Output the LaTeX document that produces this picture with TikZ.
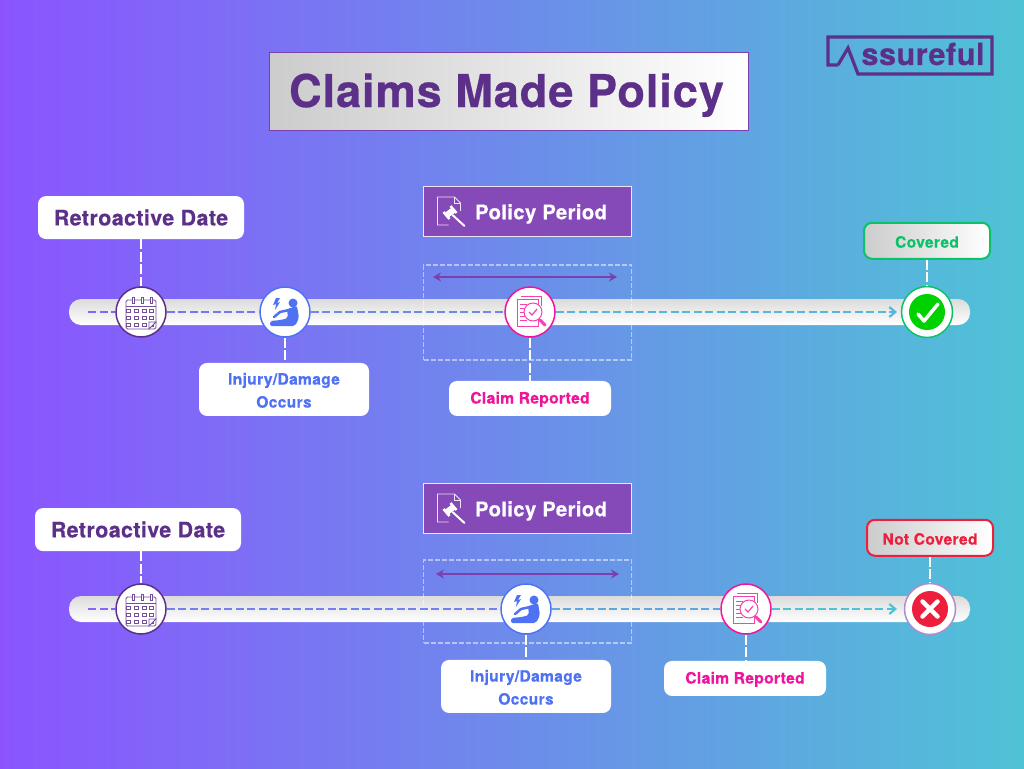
\documentclass[tikz,border=0pt]{standalone}
\usepackage{fontspec}
\setmainfont[LetterSpace=2.0,BoldFeatures={FakeBold=0.5}]{TeX Gyre Heros}
\usetikzlibrary{arrows.meta,positioning}
\definecolor{bgLeft}{HTML}{8B54FF}
\definecolor{bgRight}{HTML}{4FC3D6}
\definecolor{brandPurple}{HTML}{5C2F88}
\definecolor{periodPurple}{HTML}{8549B8}
\definecolor{spanPurple}{HTML}{7C3FAE}
\definecolor{injuryBlue}{HTML}{4F72F5}
\definecolor{claimPink}{HTML}{F0149C}
\definecolor{okGreen}{HTML}{0CC268}
\definecolor{discGreen}{HTML}{00D200}
\definecolor{badRed}{HTML}{EE1F3C}
\newcommand{\textdrop}[1]{\rule{0pt}{#1}}
\tikzset{
    x=1pt,
    y=-1pt,
    bar/.style={
        rectangle,
        rounded corners=12pt,
        top color=black!14,
        bottom color=white,
        minimum width=901pt,
        minimum height=26pt,
        inner sep=0pt
    },
    whitebox/.style={
        rectangle,
        rounded corners=8pt,
        fill=white,
        align=center,
        inner sep=0pt,
        font=\bfseries\fontsize{15.6}{23}\selectfont
    },
    retrobox/.style={
        whitebox,
        minimum width=206pt,
        minimum height=43pt,
        text=brandPurple,
        font=\bfseries\fontsize{21.4}{24}\selectfont
    },
    injurybox/.style={whitebox, minimum width=170pt, minimum height=53pt, text=injuryBlue},
    claimbox/.style={whitebox, minimum width=162pt, minimum height=35pt, text=claimPink},
    resultbox/.style={
        rectangle,
        rounded corners=8pt,
        left color=black!20,
        right color=white,
        line width=2pt,
        minimum width=126pt,
        minimum height=36pt,
        inner sep=0pt,
        font=\bfseries\fontsize{15.6}{18}\selectfont
    },
    periodbox/.style={
        rectangle,
        fill=periodPurple,
        draw=white!85!periodPurple,
        line width=1pt,
        minimum width=208pt,
        minimum height=50pt,
        inner sep=0pt,
        text=white,
        font=\bfseries\fontsize{20.2}{24}\selectfont
    },
    periodframe/.style={
        rectangle,
        draw=white,
        draw opacity=0.5,
        line width=1.3pt,
        dash pattern=on 5pt off 2pt,
        minimum width=208pt,
        inner sep=0pt
    },
    stop/.style={circle, fill=white, line width=1.5pt, minimum size=50pt, inner sep=0pt},
    span/.style={{Stealth[length=8pt,width=9pt]}-{Stealth[length=8pt,width=9pt]}, line width=2.2pt, draw=spanPurple},
    track/.style={line width=2.2pt, dash pattern=on 8pt off 3.5pt},
    link/.style={draw=white, line width=1.5pt, dash pattern=on 10pt off 2.5pt},
    pics/calendaricon/.style={code={
        \draw[brandPurple!85!white, line width=0.9pt, rounded corners=1.5pt] (-15,-12) rectangle (15,17);
        \draw[brandPurple!85!white, line width=0.9pt] (-15,-6) -- (15,-6);
        \foreach \ringx in {-9,0,9} {
            \draw[brandPurple!85!white, line width=0.9pt, fill=white] (\ringx,-15) rectangle ++(2.5,6);
        }
        \foreach \cellx in {-11,-3,5,12} {
            \foreach \celly in {-3,4,11} {
                \draw[brandPurple!85!white, line width=0.9pt] (\cellx,\celly) rectangle ++(-3.6,3.6);
            }
        }
        \draw[brandPurple!85!white, line width=0.9pt, fill=white] (15,10) -- (8,17) -- (8,10) -- cycle;
    }},
    pics/seaticon/.style={code={
        \fill[injuryBlue] (8,-9) circle (4.5);
        \fill[injuryBlue, rounded corners=2pt] (2,-3) -- (12,-6) -- (14,6) -- (10,14) -- (-15,14) -- (-15,9) -- (-4,8) -- (3,6) -- cycle;
        \draw[injuryBlue, line width=2.5pt, line cap=round] (-11,5) -- (-5,0) -- (4,-2);
        \fill[injuryBlue] (-9,-14) -- (-12,-7) -- (-9,-8) -- (-10,-2) -- (-5,-10) -- (-8,-9) -- (-5,-14) -- cycle;
    }},
    pics/claimicon/.style={code={
        \draw[claimPink!80!white, line width=1pt] (-9,-16) -- (11,-16) -- (11,-6);
        \draw[claimPink!80!white, line width=1pt, fill=white] (-13,-13) -- (8,-13) -- (8,14) -- (-13,14) -- cycle;
        \foreach \liney in {-8,-4,0,4,8} {
            \draw[claimPink!80!white, line width=1pt] (-10,\liney) -- (-3,\liney);
        }
        \draw[claimPink!80!white, line width=1pt, fill=white] (3,0) circle (9);
        \draw[claimPink!80!white, line width=1.2pt] (-1,0) -- (2,3) -- (7,-3);
        \draw[claimPink!80!white, line width=3pt, line cap=round] (10,8) -- (15,13);
    }},
    pics/gavelicon/.style={code={
        \draw[white!85!periodPurple, line width=0.9pt] (-3,14) -- (-14,14) -- (-14,-14) -- (3,-14) -- (9,-8) -- (9,0);
        \draw[white!85!periodPurple, line width=0.9pt] (3,-14) -- (3,-8) -- (9,-8);
        \draw[white, line width=6pt] (-6,5) -- (2,-1);
        \draw[white, line width=2pt, line cap=round] (1,4) -- (13,15);
        \draw[white, line width=2.5pt] (-8,1) -- (-2,8);
        \draw[white, line width=2.5pt] (-1,-5) -- (5,2);
    }},
    pics/tickicon/.style={code={
        \draw[white, line width=3.5pt, line cap=round, line join=round] (-9,2) -- (-3,9) -- (11,-8);
    }},
    pics/crossicon/.style={code={
        \draw[white, line width=4.5pt, line cap=round] (-7.5,-7.5) -- (7.5,7.5);
        \draw[white, line width=4.5pt, line cap=round] (-7.5,7.5) -- (7.5,-7.5);
    }}
}
\begin{document}
\begin{tikzpicture}
    \useasboundingbox (0,0) rectangle (1024,768);
    \shade[left color=bgLeft, right color=bgRight] (0,0) rectangle (1024,768);

    % heading
    \node[rectangle, left color=black!20, right color=white, draw=spanPurple, line width=1pt,
        minimum width=479pt, minimum height=77pt, inner sep=0pt, text=brandPurple,
        font=\bfseries\fontsize{45.2}{50}\selectfont] (title) at (508.5,91.5) {\hspace*{-4pt}\textdrop{41pt}Claims Made Policy};

    \draw[brandPurple, line width=3.2pt, line join=miter] (838,65) -- (828,65) -- (828,37) -- (992,37) -- (992,74) -- (858,74) -- (848,48) -- (838,65);
    \node[inner sep=0pt, text=brandPurple, font=\bfseries\fontsize{30.5}{32}\selectfont] (brand) at (923,54) {ssureful};

    % upper timeline
    \node[bar] (barA) at (519.5,312) {};
    \node[periodbox] (periodA) at (527.5,211) {\hspace*{27pt}\textdrop{21pt}Policy Period};
    \node[periodframe, minimum height=95pt] (frameA) at (527.5,312.5) {};
    \coordinate (spanAl) at (433,277);
    \coordinate (spanAr) at (617,277);
    \draw[span] (spanAl) -- (spanAr);

    \node[stop, draw=brandPurple] (calA) at (141,312) {};
    \node[stop, draw=injuryBlue] (seatA) at (285,312) {};
    \node[stop, draw=claimPink] (claimA) at (530,312) {};
    \node[stop, draw=okGreen, minimum size=51pt] (okA) at (927,312) {};
    \node[circle, fill=discGreen, minimum size=36pt, inner sep=0pt] (discA) at (okA) {};

    \coordinate (startA) at (88,312);
    \coordinate (tipA) at (897,312);
    \draw[track, draw=bgLeft!80!bgRight] (startA) -- (calA);
    \draw[track, draw=bgLeft!70!bgRight] (calA) -- (seatA);
    \draw[track, draw=bgLeft!50!bgRight] (seatA) -- (claimA);
    \draw[track, draw=bgLeft!10!bgRight, -{Straight Barb[length=6pt,width=10pt]}] (claimA) -- (tipA);

    \node[retrobox, above=47pt of calA] (retroA) {Retroactive Date};
    \node[injurybox, below=25pt of seatA, xshift=-1pt] (injuryA) {\textdrop{13.5pt}Injury/Damage\\Occurs};
    \node[claimbox, below=43pt of claimA] (reportA) {\textdrop{13.5pt}Claim Reported};
    \node[resultbox, draw=okGreen, text=okGreen, above=26pt of okA] (coveredA) {\textdrop{14pt}Covered};

    \draw[link] (retroA) -- (calA);
    \draw[link] (seatA) -- (injuryA.north -| seatA);
    \draw[link] (claimA) -- (reportA);
    \draw[link] (coveredA) -- (okA);

    \pic at (periodA.center) [xshift=-76pt] {gavelicon};
    \pic at (calA) {calendaricon};
    \pic at (seatA) {seaticon};
    \pic at (claimA) {claimicon};
    \pic at (okA) {tickicon};

    % lower timeline
    \node[bar] (barB) at (519.5,609) {};
    \node[periodbox] (periodB) at (527.5,508) {\hspace*{27pt}\textdrop{21pt}Policy Period};
    \node[periodframe, minimum height=83pt] (frameB) at (527.5,601.5) {};
    \coordinate (spanBl) at (436,574);
    \coordinate (spanBr) at (619,574);
    \draw[span] (spanBl) -- (spanBr);

    \node[stop, draw=brandPurple] (calB) at (141,609) {};
    \node[stop, draw=injuryBlue] (seatB) at (526,609) {};
    \node[stop, draw=claimPink] (claimB) at (746,609) {};
    \node[stop, draw=spanPurple!60!white, minimum size=51pt] (badB) at (930,609) {};
    \node[circle, fill=badRed, minimum size=36pt, inner sep=0pt] (discB) at (badB) {};

    \coordinate (startB) at (88,609);
    \coordinate (tipB) at (897,609);
    \draw[track, draw=bgLeft!80!bgRight] (startB) -- (calB);
    \draw[track, draw=bgLeft!60!bgRight] (calB) -- (seatB);
    \draw[track, draw=bgLeft!25!bgRight] (seatB) -- (claimB);
    \draw[track, draw=bgRight, -{Straight Barb[length=6pt,width=10pt]}] (claimB) -- (tipB);

    \node[retrobox, above=32pt of calB, xshift=-3pt] (retroB) {Retroactive Date};
    \node[injurybox, below=25pt of seatB] (injuryB) {\textdrop{13.5pt}Injury/Damage\\Occurs};
    \node[claimbox, below=26pt of claimB, xshift=-1pt] (reportB) {\textdrop{13.5pt}Claim Reported};
    \node[resultbox, draw=badRed, text=badRed, above=26pt of badB] (coveredB) {\textdrop{14pt}Not Covered};

    \draw[link] (retroB.south -| calB) -- (calB);
    \draw[link] (seatB) -- (injuryB);
    \draw[link] (claimB) -- (reportB.north -| claimB);
    \draw[link] (coveredB) -- (badB);

    \pic at (periodB.center) [xshift=-76pt] {gavelicon};
    \pic at (calB) {calendaricon};
    \pic at (seatB) {seaticon};
    \pic at (claimB) {claimicon};
    \pic at (badB) {crossicon};
\end{tikzpicture}
\end{document}
